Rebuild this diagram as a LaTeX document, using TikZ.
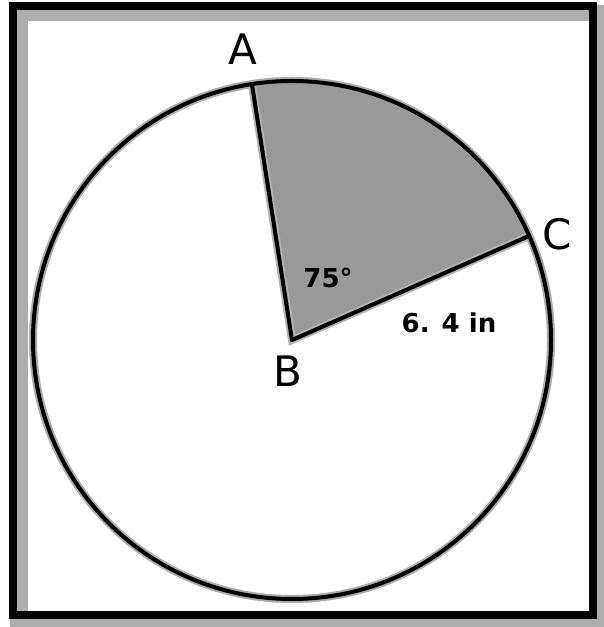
\documentclass[tikz,border=0pt]{standalone}
\usepackage{fontspec}
\setmainfont{DejaVu Sans}
\begin{document}
\begin{tikzpicture}[x=1pt,y=1pt,
  shadowline/.style={line width=8pt, draw=black!33},
  mainline/.style={line width=4pt, draw=black, line cap=round, line join=round},
  ptlabel/.style={font=\fontsize{42}{42}\selectfont, anchor=base, inner sep=0pt},
  meas/.style={font=\bfseries\fontsize{26}{26}\selectfont, anchor=base, inner sep=0pt},
  bevel/.style={fill=black!32}]
\useasboundingbox (0,0) rectangle (604,627);
% outer drop shadow of the frame
\fill[black!32] (10,0) rectangle (604,622);
% white interior
\fill[white] (12.5,11.5) rectangle (592.5,620.5);
% inner bevel (top and left)
\fill[bevel] (16.5,15.5) rectangle (28,616.5);
\fill[bevel] (16.5,606) rectangle (588.5,616.5);
% frame
\draw[line width=8pt] (12.5,11.5) rectangle (592.5,620.5);

% geometry
\coordinate (B) at (292,287);
\coordinate (A) at ([shift={(98.9:259)}]B);
\coordinate (C) at ([shift={(23.7:259)}]B);

% shadows
\begin{scope}[shift={(5,-5)}]
  \draw[shadowline] (B) circle[radius=259];
\end{scope}
% sector
\fill[black!40] (B) -- (A) arc[start angle=98.9, end angle=23.7, radius=259] -- cycle;
\begin{scope}[shift={(4,-4)}]
  \draw[shadowline, draw=black!30] (A) -- (B) -- (C);
\end{scope}
% main lines
\draw[mainline] (B) circle[radius=259];
\draw[mainline] (A) -- (B);
\draw[mainline] (B) -- (C);

% labels
\node[ptlabel] (lA) at (243,562) {A};
\node[ptlabel] (lB) at (288,240) {B};
\node[ptlabel] (lC) at (557,377) {C};
\node[meas] (ang) at (328,339) {75°};
\node[meas] (rad) at (449,294) {6. 4 in};
\end{tikzpicture}
\end{document}
